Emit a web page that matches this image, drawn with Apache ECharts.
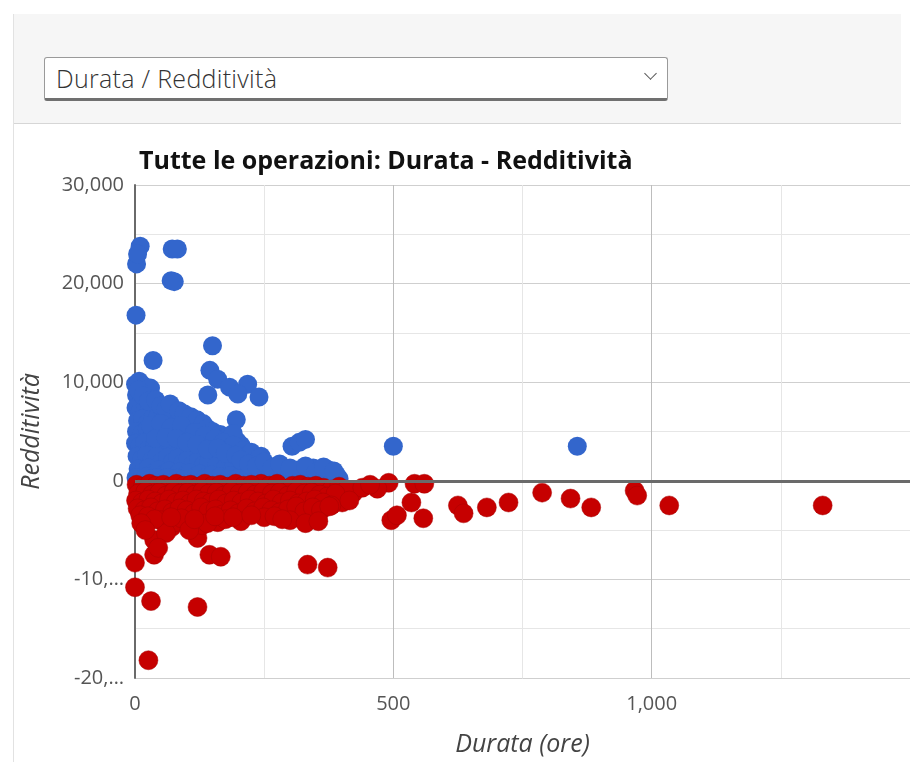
<!DOCTYPE html>
<html>
<head>
<meta charset="utf-8">
<script src="https://cdn.jsdelivr.net/npm/echarts@6/dist/echarts.min.js"></script>
<style>
  html, body { margin:0; padding:0; width:913px; height:762px; background:#fff; overflow:hidden; font-family:"Open Sans", Arial, sans-serif; }
  #panel { position:absolute; left:13px; top:14px; width:887px; height:109px; background:#f6f6f6; border-left:1px solid #dcdcdc; border-bottom:1px solid #d6d6d6; }
  #leftline { position:absolute; left:13px; top:14px; width:1px; height:748px; background:#e2e2e2; }
  #select { position:absolute; left:44px; top:57px; width:622px; height:40px; background:#fff; border:1px solid #9a9a9a; border-bottom:3px solid #707070; border-radius:3px; box-sizing:content-box; }
  #selText { position:absolute; left:11px; top:3px; font-size:25px; font-weight:300; color:#333; letter-spacing:0.3px; }
  #chev { position:absolute; right:12px; top:11px; width:8px; height:8px; border-right:1.5px solid #555; border-bottom:1.5px solid #555; transform:rotate(45deg); }
  #chart { position:absolute; left:0; top:0; width:913px; height:762px; }
</style>
</head>
<body>
<div id="panel"></div>
<div id="leftline"></div>
<div id="select"><span id="selText">Durata / Redditività</span><div id="chev"></div></div>
<div id="chart"></div>
<script>
// ---- data ----
const titleText = 'Tutte le operazioni: Durata - Redditività';
const xAxisName = 'Durata (ore)';
const yAxisName = 'Redditività';
const xTicks = [0, 500, 1000, 1500];
const xTickLabels = ['0', '500', '1,000', ''];
const yTicks = [-20000, -10000, 0, 10000, 20000, 30000];
const yTickLabels = ['-20,…', '-10,…', '0', '10,000', '20,000', '30,000'];

// Profitable trades: [duration (h), return]
const profitTrades = [
  [10,23800],[3,22000],[5,23000],[70,20300],[76,20200],[72,23500],[82,23500],[2,16800],
  [35,12200],[150,13700],[145,11200],[160,10300],[183,9500],[218,9800],[199,8800],[141,8700],
  [240,8500],[196,6200],[244,2500],[304,3500],[318,3900],[330,4200],[500,3500],[856,3500],
  [1,9800],[8,10100],[18,9600],[3,8700],[12,8200],[22,8900],[30,9400],[2,7400],[10,7000],
  [20,7600],[28,7200],[38,7100],[5,6100],[15,6300],[25,5900],[35,6400],[45,6600],[55,6900],
  [62,6200],[72,6700],[80,6000],[90,6300],[100,6100],[110,5700],[118,5400],[125,5000],
  [3,5000],[14,4800],[24,5200],[34,4700],[44,5300],[54,4900],[64,5100],[74,4600],[84,5000],
  [94,4800],[104,4400],[114,4200],[130,4000],[145,3600],[160,4100],[172,3500],[185,3000],
  [198,4000],[205,3600],[1,3800],[9,3500],[19,3900],[29,3400],[39,3700],[49,3300],[59,3800],
  [69,3200],[79,3600],[89,3100],[99,3400],[109,3000],[119,3300],[139,2700],[152,2900],
  [168,2500],[180,2200],[215,2600],[228,2000],[4,2500],[13,2200],[23,2600],[33,2100],
  [43,2500],[53,2000],[63,2400],[73,1900],[83,2300],[93,1800],[103,2200],[113,1700],
  [123,2100],[133,1600],[143,1900],[158,1500],[175,1300],[192,1600],[210,1200],[238,1100],
  [255,1500],[270,900],[285,1200],[300,800],[315,1100],[330,900],[345,1300],[360,700],
  [375,1100],[390,600],[6,1200],[16,900],[26,1300],[36,800],[46,1100],[56,700],[66,1000],
  [76,600],[86,900],[96,500],[106,800],[116,400],[126,700],[136,300],[148,600],[165,400],
  [185,500],[200,300],[220,500],[250,400],[275,300],[295,500],[320,300],[340,400],[370,300],
  [395,200],[2,300],[12,100],[22,400],[32,200],[42,300],[52,100],[62,300],[72,150],[82,250],[92,100],
  [7,9200],[16,8600],[26,8100],[40,8200],[50,7600],[60,7300],[68,7800],[85,7100],[95,6800],
  [108,6500],[120,6200],[132,5800],[140,5300],[150,5000],[165,4700],[178,4400],[190,4800],
  [30,5600],[50,5800],[70,5400],[90,5600],[115,4900],[135,4600],[155,4300],[170,3900],
  [190,3600],[210,3100],[225,2900],[240,2300],[40,4300],[60,4400],[80,4300],[100,3900],
  [120,3700],[140,3200],[160,3300],[175,2800],[195,2600],[205,2100],[220,1700],[235,1500],
  [250,1900],[265,1300],[280,1700],[300,1300],[330,1500],[350,900],[365,1400],[385,1000]
];

// Losing trades: [duration (h), return]
const lossTrades = [
  [0,-8300],[0,-10800],[31,-12200],[26,-18200],[121,-12800],[37,-7500],[37,-6000],[71,-4700],
  [77,-4200],[121,-5800],[144,-7500],[166,-7700],[160,-4200],[334,-8500],[373,-8800],[317,-3500],
  [345,-3800],[496,-4000],[507,-3500],[558,-3800],[535,-2200],[625,-2500],[636,-3300],[681,-2700],
  [723,-2200],[788,-1200],[843,-1800],[883,-2700],[967,-1000],[972,-1500],[1034,-2500],[1331,-2500],
  [491,-200],[541,-300],[560,-300],[469,-800],[423,-1200],[401,-2200],[244,-300],[289,-800],
  [3,-400],[15,-600],[28,-300],[40,-500],[55,-400],[68,-600],[80,-300],[95,-500],[108,-400],
  [122,-600],[135,-300],[150,-500],[165,-400],[180,-600],[195,-300],[210,-500],[225,-400],
  [260,-500],[275,-300],[305,-500],[320,-400],[335,-600],[350,-500],[365,-700],[380,-900],
  [395,-600],[410,-900],[440,-700],[455,-400],
  [6,-1300],[20,-1100],[33,-1400],[47,-1200],[60,-1500],[75,-1100],[88,-1300],[102,-1200],
  [116,-1400],[130,-1100],[143,-1300],[158,-1200],[172,-1500],[187,-1100],[202,-1300],
  [218,-1200],[233,-1400],[248,-1100],[265,-1300],[280,-1200],[296,-1500],[312,-1100],
  [328,-1300],[342,-1200],[358,-1400],[372,-1600],[388,-1300],
  [2,-2000],[14,-2200],[26,-1900],[39,-2100],[52,-2300],[66,-1900],[79,-2200],[93,-2000],
  [106,-2300],[119,-1900],[133,-2100],[147,-2200],[162,-1900],[176,-2300],[191,-2000],
  [206,-2200],[222,-1900],[238,-2100],[253,-2300],[268,-1900],[284,-2200],[300,-2000],
  [316,-2300],[332,-2100],[348,-1900],[364,-2200],[380,-2500],[415,-2000],
  [5,-2800],[18,-3000],[31,-2700],[44,-3100],[58,-2900],[72,-3200],[86,-2800],[100,-3000],
  [114,-3300],[128,-2700],[142,-3100],[156,-2900],[170,-3400],[185,-3000],[200,-3300],
  [216,-2800],[232,-3100],[248,-2700],[264,-3000],[280,-3200],[296,-2900],[312,-2600],
  [328,-3100],[344,-2700],[360,-3000],[376,-2600],
  [50,-4000],[90,-3800],[130,-4500],[175,-3900],[205,-4100],[250,-3700],[300,-4000],
  [330,-4300],[355,-4100],[105,-5000],[140,-4300],[60,-5300],
  [10,-3500],[25,-3600],[38,-3900],[70,-3700],[115,-3900],[155,-3600],[190,-3700],
  [225,-3500],[270,-3600],[285,-3900],[12,-4300],[20,-5000],[45,-6800]
];

const chart = echarts.init(document.getElementById('chart'));
const axisFont = '"Open Sans", "Noto Sans", sans-serif';
chart.setOption({
  animation: false,
  backgroundColor: 'transparent',
  title: {
    text: titleText, left: 134, top: 144,
    textStyle: { fontSize: 25, fontWeight: 'bold', color: '#111', fontFamily: axisFont }
  },
  grid: { left: 135, top: 185, width: 780, height: 500 },
  xAxis: {
    type: 'value', min: xTicks[0], max: xTicks[xTicks.length - 1], interval: 500,
    name: xAxisName, nameLocation: 'middle', nameGap: 54,
    nameTextStyle: { fontStyle: 'italic', fontSize: 25, color: '#444', fontFamily: axisFont },
    axisLine: { show: false }, axisTick: { show: false },
    axisLabel: { margin: 16, fontSize: 20, color: '#555', fontFamily: axisFont,
      formatter: v => { const i = xTicks.indexOf(v); return i >= 0 ? xTickLabels[i] : ''; } },
    splitLine: { show: true, showMaxLine: false, lineStyle: { color: '#bdbdbd', width: 1 } },
    minorTick: { show: false, splitNumber: 2 },
    minorSplitLine: { show: true, lineStyle: { color: '#e6e6e6', width: 1 } }
  },
  yAxis: {
    type: 'value', min: yTicks[0], max: yTicks[yTicks.length - 1], interval: 10000,
    name: yAxisName, nameLocation: 'middle', nameGap: 91, nameRotate: 90,
    nameTextStyle: { fontStyle: 'italic', fontSize: 25, color: '#444', fontFamily: axisFont },
    axisLine: { show: true, lineStyle: { color: '#6a6a6a', width: 2 } },
    axisTick: { show: false },
    axisLabel: { margin: 11, fontSize: 20, color: '#555', fontFamily: axisFont,
      formatter: v => { const i = yTicks.indexOf(v); return i >= 0 ? yTickLabels[i] : ''; } },
    splitLine: { show: true, lineStyle: { color: '#cfcfcf', width: 1 } },
    minorTick: { show: false, splitNumber: 2 },
    minorSplitLine: { show: true, lineStyle: { color: '#e6e6e6', width: 1 } }
  },
  series: [
    {
      type: 'scatter', data: profitTrades, symbolSize: 19,
      itemStyle: { color: '#3366cc', borderWidth: 0, opacity: 1 },
      markLine: {
        silent: true, symbol: ['none', 'none'], label: { show: false },
        lineStyle: { color: '#6a6a6a', width: 3, type: 'solid' },
        data: [{ yAxis: 0 }]
      },
      z: 2
    },
    {
      type: 'scatter', data: lossTrades, symbolSize: 19,
      itemStyle: { color: '#c60000', borderColor: '#a80000', borderWidth: 0.5, opacity: 1 },
      z: 3
    }
  ]
});
</script>
</body>
</html>
